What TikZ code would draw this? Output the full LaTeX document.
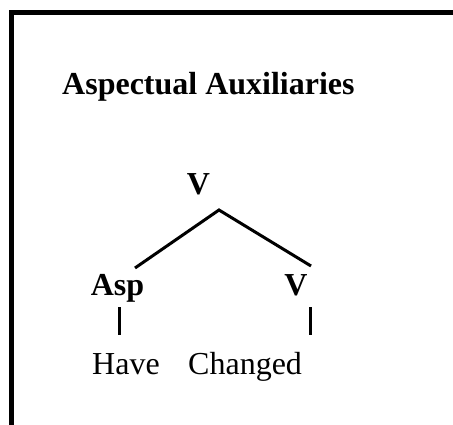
\documentclass[tikz,border=0pt]{standalone}
\usepackage{fontspec}
\setmainfont{Liberation Serif}
\usepackage{tikz}
\usetikzlibrary{positioning, calc}

\tikzset{
  label/.style={inner sep=0pt, font=\fontsize{32}{38}\selectfont\bfseries},
  word/.style={inner sep=0pt, font=\fontsize{32}{38}\selectfont},
  branch/.style={line width=3pt},
}

\begin{document}
\begin{tikzpicture}[x=1pt, y=-1pt]
  \useasboundingbox (0,0) rectangle (453,425);
  % Frame (top and left edges)
  \draw[line width=5pt] (11,425) -- (11,12.5) -- (453,12.5);
  % Title
  \node[label, anchor=base west] (title) at (62,95) {Aspectual Auxiliaries};
  % Tree
  \node[label, anchor=base] (vtop) at (198.5,195) {V};
  \node[label, anchor=base] (asp) at (117.5,295) {Asp};
  \node[label, anchor=base] (vbot) at (296,295) {V};
  \coordinate (apex) at (219,210);
  \coordinate (leftend) at (135,268);
  \coordinate (rightend) at (311,266);
  \draw[branch] (leftend) -- (apex) -- (rightend);
  % Words
  \node[word, anchor=base west] (have) at (92,374) {Have};
  \node[word, anchor=base west] (changed) at (188,374) {Changed};
  \coordinate (asptop) at (119,307);
  \coordinate (aspbot) at (119,335);
  \coordinate (vtop2) at (310,307);
  \coordinate (vbot2) at (310,335);
  \draw[branch] (asptop) -- (aspbot);
  \draw[branch] (vtop2) -- (vbot2);
\end{tikzpicture}
\end{document}
